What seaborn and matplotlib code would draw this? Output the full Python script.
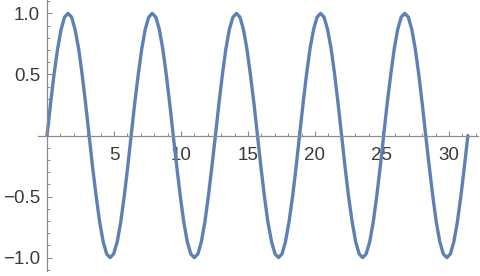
import matplotlib
matplotlib.use("Agg")
import matplotlib.pyplot as plt
import seaborn as sns
import pandas as pd
from matplotlib.ticker import MultipleLocator, FixedLocator, FixedFormatter

x_values = [
    0.00, 0.26, 0.52, 0.79, 1.05, 1.31, 1.57, 1.83, 2.09, 2.36, 2.62, 2.88,
    3.14, 3.40, 3.67, 3.93, 4.19, 4.45, 4.71, 4.97, 5.24, 5.50, 5.76, 6.02,
    6.28, 6.54, 6.81, 7.07, 7.33, 7.59, 7.85, 8.12, 8.38, 8.64, 8.90, 9.16,
    9.42, 9.69, 9.95, 10.21, 10.47, 10.73, 11.00, 11.26, 11.52, 11.78, 12.04, 12.30,
    12.57, 12.83, 13.09, 13.35, 13.61, 13.88, 14.14, 14.40, 14.66, 14.92, 15.18, 15.45,
    15.71, 15.97, 16.23, 16.49, 16.76, 17.02, 17.28, 17.54, 17.80, 18.06, 18.33, 18.59,
    18.85, 19.11, 19.37, 19.63, 19.90, 20.16, 20.42, 20.68, 20.94, 21.21, 21.47, 21.73,
    21.99, 22.25, 22.51, 22.78, 23.04, 23.30, 23.56, 23.82, 24.09, 24.35, 24.61, 24.87,
    25.13, 25.39, 25.66, 25.92, 26.18, 26.44, 26.70, 26.97, 27.23, 27.49, 27.75, 28.01,
    28.27, 28.54, 28.80, 29.06, 29.32, 29.58, 29.85, 30.11, 30.37, 30.63, 30.89, 31.15,
    31.42,
]

y_values = [
    0.00, 0.26, 0.50, 0.71, 0.87, 0.97, 1.00, 0.97, 0.87, 0.71, 0.50, 0.26,
    0.00, -0.26, -0.50, -0.71, -0.87, -0.97, -1.00, -0.97, -0.87, -0.71, -0.50, -0.26,
    0.00, 0.26, 0.50, 0.71, 0.87, 0.97, 1.00, 0.97, 0.87, 0.71, 0.50, 0.26,
    0.00, -0.26, -0.50, -0.71, -0.87, -0.97, -1.00, -0.97, -0.87, -0.71, -0.50, -0.26,
    0.00, 0.26, 0.50, 0.71, 0.87, 0.97, 1.00, 0.97, 0.87, 0.71, 0.50, 0.26,
    0.00, -0.26, -0.50, -0.71, -0.87, -0.97, -1.00, -0.97, -0.87, -0.71, -0.50, -0.26,
    0.00, 0.26, 0.50, 0.71, 0.87, 0.97, 1.00, 0.97, 0.87, 0.71, 0.50, 0.26,
    0.00, -0.26, -0.50, -0.71, -0.87, -0.97, -1.00, -0.97, -0.87, -0.71, -0.50, -0.26,
    0.00, 0.26, 0.50, 0.71, 0.87, 0.97, 1.00, 0.97, 0.87, 0.71, 0.50, 0.26,
    0.00, -0.26, -0.50, -0.71, -0.87, -0.97, -1.00, -0.97, -0.87, -0.71, -0.50, -0.26,
    0.00,
]

x_ticks = [5, 10, 15, 20, 25, 30]
x_tick_labels = ["5", "10", "15", "20", "25", "30"]
y_ticks = [-1.0, -0.5, 0.5, 1.0]
y_tick_labels = ["\u22121.0", "\u22120.5", "0.5", "1.0"]

sns.set_style("white")
plt.rcParams["font.family"] = ["Liberation Sans", "DejaVu Sans"]

df = pd.DataFrame({"x": x_values, "y": y_values})

fig = plt.figure(figsize=(4.8, 2.76), dpi=100)
ax = fig.add_axes([0.0796, 0.018, 0.917, 0.982])
ax.patch.set_alpha(0)

sns.lineplot(data=df, x="x", y="y", ax=ax, sort=False, estimator=None,
             color="#5E81B5", linewidth=2.4)

ax.set_xlim(-0.66, 32.2)
ax.set_ylim(-1.11, 1.11)

axis_color = "#8c8c8c"
for side in ["top", "right"]:
    ax.spines[side].set_visible(False)
ax.spines["left"].set_position(("data", 0))
ax.spines["bottom"].set_position(("data", 0))
for side in ["left", "bottom"]:
    ax.spines[side].set_color(axis_color)
    ax.spines[side].set_linewidth(0.9)

ax.xaxis.set_major_locator(FixedLocator(x_ticks))
ax.xaxis.set_major_formatter(FixedFormatter(x_tick_labels))
ax.xaxis.set_minor_locator(MultipleLocator(1))
ax.yaxis.set_major_locator(FixedLocator(y_ticks))
ax.yaxis.set_major_formatter(FixedFormatter(y_tick_labels))
ax.yaxis.set_minor_locator(MultipleLocator(0.1))

ax.tick_params(axis="both", which="both", bottom=True, left=True, top=False, right=False)
ax.tick_params(axis="both", which="major", direction="in", length=3.6, width=0.8,
               color=axis_color, labelcolor="#3a3a3a", labelsize=13.5)
ax.tick_params(axis="both", which="minor", direction="in", length=2.2, width=0.7,
               color=axis_color)
ax.tick_params(axis="x", which="major", pad=8)
ax.tick_params(axis="y", which="major", pad=5)

ax.set_xlabel("")
ax.set_ylabel("")
ax.grid(False)

fig.savefig("out.png", dpi=100)
